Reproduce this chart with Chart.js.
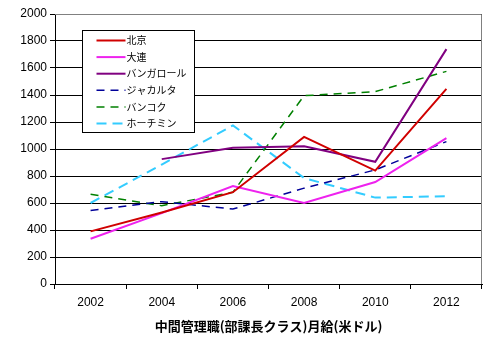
<!DOCTYPE html>
<html>
<head>
<meta charset="utf-8">
<script src="https://cdn.jsdelivr.net/npm/chart.js@4"></script>
<style>
  html, body { margin: 0; padding: 0; background: #fff; }
  #wrap { width: 485px; height: 348px; }
</style>
</head>
<body>
<div id="wrap"><canvas id="salaryChart" width="485" height="348"></canvas></div>
<script>
const years = ["2002", "2004", "2006", "2008", "2010", "2012"];
const beijing = [390, 530, 680, 1090, 840, 1445];
const dalian = [335, 525, 725, 600, 755, 1080];
const bangalore = [null, 925, 1010, 1020, 905, 1740];
const jakarta = [545, 610, 555, 710, 845, 1055];
const bangkok = [665, 580, 680, 1395, 1425, 1575];
const hochiminh = [600, 885, 1175, 785, 640, 650];
const yTicks = [0, 200, 400, 600, 800, 1000, 1200, 1400, 1600, 1800, 2000];
const axisTitle = "中間管理職(部課長クラス)月給(米ドル)";

const tickFont = { family: "'Liberation Sans', Arial, sans-serif", size: 12 };

// legend box drawn by hand so it sits inside the plot like the original
const boxLegend = {
    id: "boxLegend",
    afterDraw(chart) {
        const ctx = chart.ctx;
        const area = chart.chartArea;
        // grey frame on top and right of the plot
        ctx.save();
        ctx.strokeStyle = "#808080";
        ctx.lineWidth = 1;
        ctx.beginPath();
        ctx.moveTo(area.left, area.top + 0.5);
        ctx.lineTo(area.right - 0.5, area.top + 0.5);
        ctx.lineTo(area.right - 0.5, area.bottom);
        ctx.stroke();

        const x = 82.5, y = 30.5, w = 112, h = 102;
        ctx.fillStyle = "#fff";
        ctx.fillRect(x, y, w, h);
        ctx.strokeStyle = "#000";
        ctx.strokeRect(x, y, w, h);
        ctx.font = "10px 'Noto Sans CJK JP', sans-serif";
        ctx.textBaseline = "middle";
        chart.data.datasets.forEach((ds, i) => {
            const ly = y + 10 + i * 16.6;
            ctx.strokeStyle = ds.borderColor;
            ctx.lineWidth = ds.borderWidth;
            ctx.setLineDash(ds.borderDash || []);
            ctx.beginPath();
            ctx.moveTo(x + 14, ly);
            ctx.lineTo(x + 43, ly);
            ctx.stroke();
            ctx.setLineDash([]);
            ctx.fillStyle = "#000";
            ctx.fillText(ds.label, x + 44, ly);
        });
        ctx.restore();
    }
};

new Chart(document.getElementById("salaryChart"), {
    type: "line",
    data: {
        labels: years,
        datasets: [
            { label: "北京", data: beijing, borderColor: "#d00000", borderWidth: 2 },
            { label: "大連", data: dalian, borderColor: "#ee22ee", borderWidth: 2 },
            { label: "バンガロール", data: bangalore, borderColor: "#800080", borderWidth: 2 },
            { label: "ジャカルタ", data: jakarta, borderColor: "#000099", borderWidth: 1.5, borderDash: [8, 6] },
            { label: "バンコク", data: bangkok, borderColor: "#008000", borderWidth: 1.5, borderDash: [8, 6] },
            { label: "ホーチミン", data: hochiminh, borderColor: "#33ccff", borderWidth: 2, borderDash: [10, 6] }
        ].map(ds => Object.assign(ds, { pointRadius: 0, fill: false, tension: 0, spanGaps: false }))
    },
    options: {
        responsive: false,
        animation: false,
        layout: { padding: { left: 0, right: 3, top: 14, bottom: 14 } },
        plugins: {
            legend: { display: false },
            tooltip: { enabled: false }
        },
        scales: {
            x: {
                offset: true,
                grid: { drawOnChartArea: false, offset: true, tickLength: 5, color: "#000" },
                border: { color: "#000" },
                ticks: { color: "#000", font: tickFont, padding: 6 },
                title: {
                    display: true,
                    text: axisTitle,
                    color: "#000",
                    font: { family: "'Noto Sans CJK JP', sans-serif", size: 13, weight: "bold" },
                    padding: { top: 4, bottom: 0 }
                },
                afterFit(scale) { scale.height = 50; }
            },
            y: {
                min: 0,
                max: 2000,
                afterBuildTicks(scale) { scale.ticks = yTicks.map(v => ({ value: v })); },
                grid: { color: "#000", tickLength: 5, drawTicks: true },
                border: { color: "#000" },
                ticks: { color: "#000", font: tickFont, padding: 3, callback: v => String(v) },
                afterFit(scale) { scale.width = 55; }
            }
        }
    },
    plugins: [boxLegend]
});
</script>
</body>
</html>
